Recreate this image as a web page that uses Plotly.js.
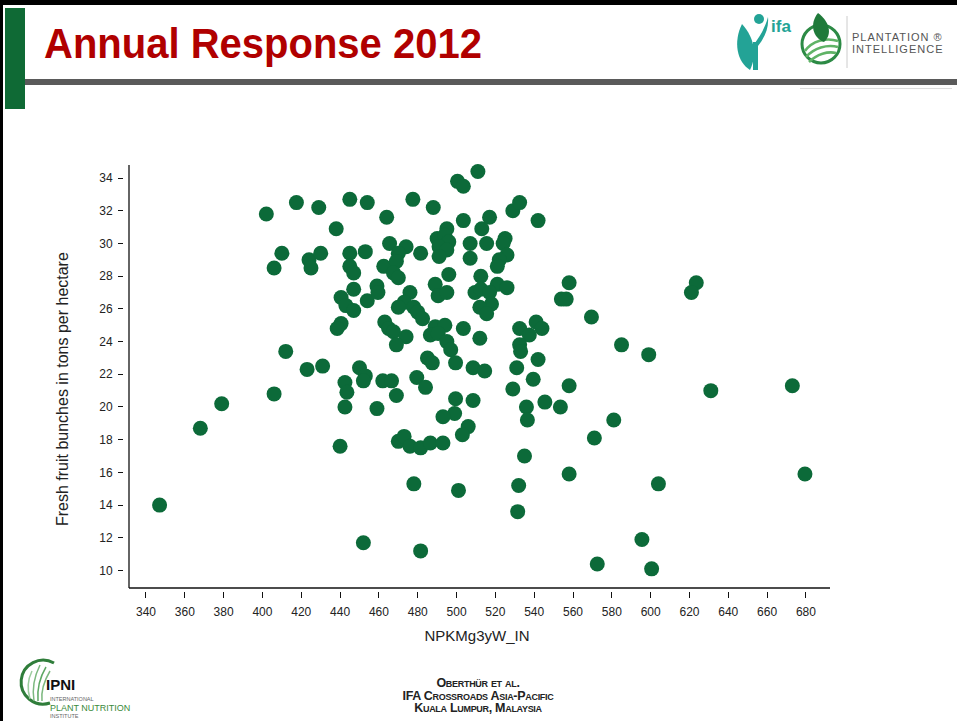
<!DOCTYPE html>
<html><head><meta charset="utf-8">
<script src="https://cdn.plot.ly/plotly-3.0.1.min.js"></script>
<style>
html,body{margin:0;padding:0;width:957px;height:721px;overflow:hidden;background:#fff;font-family:"Liberation Sans",Arial,sans-serif;}
#chart{position:absolute;left:0;top:0;width:957px;height:721px;}
.abs{position:absolute;}
</style></head><body>
<div id="chart"></div>
<div class="abs" style="left:0;top:0;width:957px;height:5px;background:#000"></div>
<div class="abs" style="left:0;top:0;width:3px;height:721px;background:#000"></div>
<div class="abs" style="left:5px;top:8px;width:20px;height:101px;background:#0f6a35"></div>
<div class="abs" style="left:25px;top:79px;width:932px;height:6px;background:#5a5a5a"></div>
<div class="abs" style="left:800px;top:88px;width:152px;height:1px;background:#dddddd"></div>
<div class="abs" style="left:44px;top:20px;font-size:40px;line-height:1.149;font-weight:bold;color:#b00000;white-space:nowrap;transform:scaleY(1.06);transform-origin:0 0;">Annual Response 2012</div>

<svg class="abs" style="left:730px;top:8px" width="227" height="70" viewBox="0 0 227 70">
  <circle cx="29" cy="11" r="5" fill="#23a396"/>
  <path d="M12 16 C 3 34, 7 54, 20 62 C 27 48, 25 30, 12 16 Z" fill="#23a396"/>
  <path d="M38 9 C 35 20, 30 28, 25 35 L 28 38 C 35 29, 39 20, 38 9 Z" fill="#23a396"/>
  <path d="M23 34 L 23 62 L 28 62 L 28 34 Z" fill="#23a396"/>
  <text x="41" y="24" font-family="Liberation Sans Narrow, Liberation Sans, Arial" font-weight="bold" font-size="17" fill="#23a396">ifa</text>
  <circle cx="91" cy="36" r="19" fill="none" stroke="#2c8a45" stroke-width="3"/>
  <path d="M75 43 C 82 33, 96 29, 108 33" fill="none" stroke="#5fb366" stroke-width="2.5"/>
  <path d="M76 49 C 84 40, 97 36, 108 39" fill="none" stroke="#5fb366" stroke-width="2.5"/>
  <path d="M79 54 C 87 46, 98 43, 106 45" fill="none" stroke="#5fb366" stroke-width="2.5"/>
  <path d="M88 5 C 79 16, 83 30, 94 34 C 103 26, 99 13, 88 5 Z" fill="#1f7a3a"/>
  <line x1="117" y1="8" x2="117" y2="60" stroke="#cccccc" stroke-width="1"/>
  <text x="122" y="33" font-family="Liberation Sans, Arial" font-size="11" fill="#555" letter-spacing="1">PLANTATION ®</text>
  <text x="122" y="45" font-family="Liberation Sans, Arial" font-size="11" fill="#555" letter-spacing="1">INTELLIGENCE</text>
</svg>

<svg class="abs" style="left:10px;top:655px" width="130" height="66" viewBox="0 0 130 66">
  <path d="M44 8 A 22 22 0 1 0 40 48" fill="none" stroke="#2f7d3a" stroke-width="3"/>
  <path d="M24 46 C 22 34, 24 22, 30 10" fill="none" stroke="#7cb87f" stroke-width="1.5"/>
  <path d="M28 46 C 27 34, 30 22, 36 12" fill="none" stroke="#5ea864" stroke-width="1.5"/>
  <path d="M32 46 C 31 36, 34 26, 40 16" fill="none" stroke="#7cb87f" stroke-width="1.5"/>
  <path d="M20 44 C 17 34, 18 24, 22 16" fill="none" stroke="#9ccc9e" stroke-width="1.5"/>
  <text x="36" y="35" font-family="Liberation Sans, Arial" font-weight="bold" font-size="15" fill="#111">IPNI</text>
  <text x="40" y="46" font-family="Liberation Sans, Arial" font-size="5.5" fill="#666">INTERNATIONAL</text>
  <text x="40" y="56" font-family="Liberation Sans, Arial" font-size="9" fill="#3a8a3a">PLANT NUTRITION</text>
  <text x="40" y="63" font-family="Liberation Sans, Arial" font-size="5.5" fill="#666">INSTITUTE</text>
</svg>

<div class="abs" style="left:330px;top:677px;width:296px;text-align:center;font-size:12.5px;line-height:12.5px;font-weight:bold;font-variant:small-caps;color:#222;letter-spacing:-0.3px;">
Oberthür et al.<br>IFA Crossroads Asia-Pacific<br>Kuala Lumpur, Malaysia
</div>

<script>
const xValues = [347,368,379,402,406,406,410,412,417.5,423,
424,425,429,430,431,438,445,454,464,440,
452,445,453,445,447,447,440.5,443,447,454,
459,459.5,440.5,438.5,450,453,452,442.5,443.5,442.5,
459,462,466.5,463,465,465.5,462.5,467.5,474,470,
469,467.5,470,476,473,470,478,480,482.5,474,
469,477.5,488,500.5,503.5,502.5,511,503.5,495,490,
494,496,491,495,491,481.5,496,489,490.5,495,
489,494,486.5,490.5,495,497,503.5,485,487.5,499.5,
479.5,484,470,473,476,481.5,486.5,493,478,481.5,
508.5,514.5,499.5,508.5,499,493,506,503,501,469,
512,507,507,515.5,517,513,529,532.5,542,525,
524,526,522,521,512.5,521,526,509.5,512.5,517,
518,512,515.5,532.5,541,544,537.5,532.5,533,542,
539.5,529,531,545.5,553.5,536,536.5,535,532,531.5,
558,554,556.5,569.5,585,599,623.5,621,631,673,
679.5,604,595.5,572.5,600.5,558,581,571,558];
const yValues = [14.0,18.7,20.2,31.8,20.8,28.5,29.4,23.4,32.5,22.3,
29.0,28.5,32.2,29.4,22.5,30.9,32.7,32.5,31.6,17.6,
11.7,29.4,29.5,28.6,28.2,27.2,26.7,26.2,25.9,26.5,
27.4,27.0,25.1,24.8,22.4,21.9,21.6,21.5,20.9,20.0,
19.9,21.6,21.6,25.2,24.8,30.0,28.6,24.6,29.8,29.4,
28.9,28.2,27.9,27.0,26.4,26.1,26.1,25.8,25.4,24.3,
23.8,32.7,32.2,33.8,33.5,34.9,34.4,31.4,30.9,30.3,
30.5,30.1,29.8,29.6,29.2,29.4,28.1,27.5,26.8,27.0,
24.9,25.0,24.4,24.5,24.0,23.5,24.8,23.0,22.7,22.7,
21.8,21.2,17.9,18.2,17.6,17.5,17.8,17.8,15.3,11.2,
22.4,22.2,20.5,20.4,19.6,19.4,18.8,18.3,14.9,20.7,
24.2,30.0,29.1,30.0,31.6,30.9,32.0,32.5,31.4,30.3,
30.0,29.3,29.0,28.6,28.0,27.5,27.3,27.0,27.2,27.0,
26.3,26.1,25.7,24.8,25.2,24.8,24.4,23.8,23.4,22.9,
21.7,21.1,22.4,20.3,20.0,20.0,19.2,17.0,15.2,13.6,
27.6,26.6,26.6,25.5,23.8,23.2,27.6,27.0,21.0,21.3,
15.9,15.3,11.9,10.4,10.1,21.3,19.2,18.1,15.9];
const xTickVals = [340,360,380,400,420,440,460,480,500,520,540,560,580,600,620,640,660,680];
const yTickVals = [10,12,14,16,18,20,22,24,26,28,30,32,34];
const xTitle = 'NPKMg3yW_IN';
const yTitle = 'Fresh fruit bunches in tons per hectare';

const trace = {
  type:'scatter', mode:'markers', x:xValues, y:yValues, cliponaxis:false,
  marker:{size:15, color:'#0c6a39', line:{width:0}}, hoverinfo:'skip'
};
const axisLine = {color:'#111', width:1.3};
const layout = {
  width:957, height:721,
  margin:{l:124, r:127, t:165, b:130, pad:0},
  paper_bgcolor:'rgba(0,0,0,0)', plot_bgcolor:'rgba(0,0,0,0)',
  showlegend:false,
  font:{family:'"Liberation Sans", Arial, sans-serif', color:'#222'},
  xaxis:{range:[328.67,692.4], tickvals:xTickVals, ticks:'outside', ticklen:6, tickwidth:1, tickcolor:'#111',
    ticklabelstandoff:4,
    showline:false, showgrid:false, zeroline:false, tickfont:{size:12,color:'#222'},
    title:{text:xTitle, font:{size:15,color:'#222'}, standoff:12}},
  yaxis:{range:[8.746,34.8], tickvals:yTickVals, ticks:'outside', ticklen:5, tickwidth:1, tickcolor:'#111',
    ticklabelstandoff:3,
    showline:false, showgrid:false, zeroline:false, tickfont:{size:12,color:'#222'}},
  annotations:[
    {text:yTitle, xref:'paper', yref:'paper', x:0, y:0.474, xanchor:'center', yanchor:'middle',
     xshift:-62, textangle:-90, showarrow:false, font:{size:16,color:'#222'}}
  ],
  shapes:[
    {type:'line', xref:'paper', yref:'paper', x0:0.00708, x1:0.00708, y0:0.00704, y1:1, line:axisLine},
    {type:'line', xref:'paper', yref:'paper', x0:0.00708, x1:1, y0:0.00704, y1:0.00704, line:axisLine}
  ]
};
Plotly.newPlot('chart', [trace], layout, {displayModeBar:false, staticPlot:true});
</script>
</body></html>
